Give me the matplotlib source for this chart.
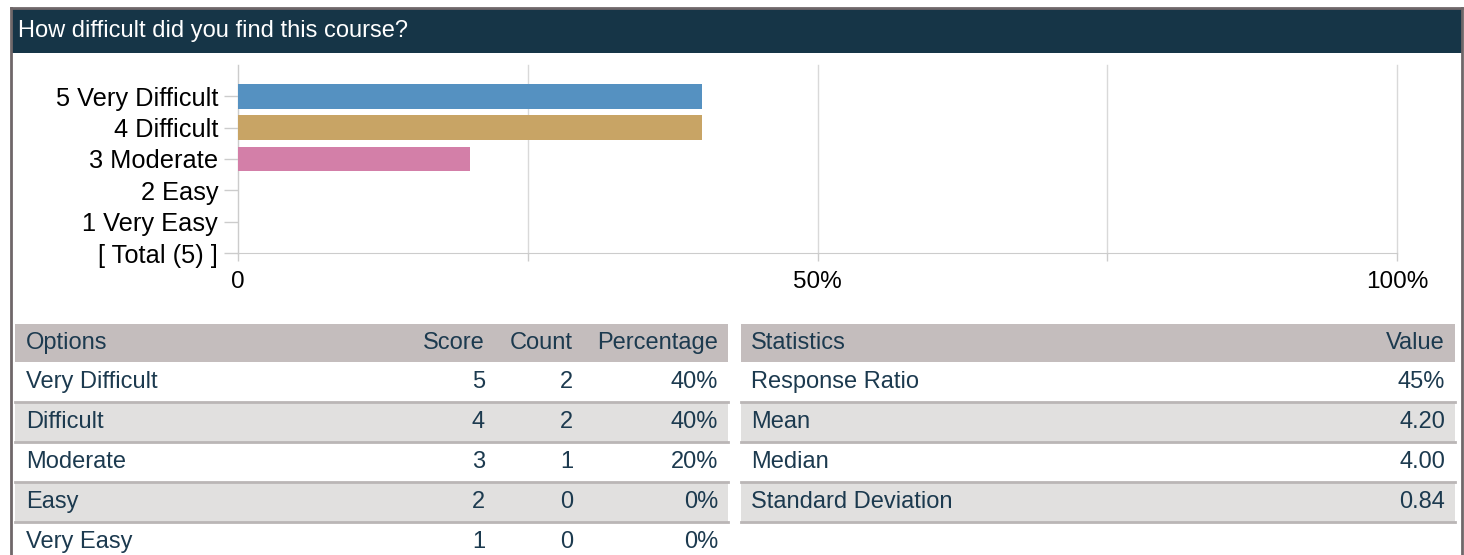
import matplotlib
matplotlib.use("Agg")
import matplotlib.pyplot as plt
from matplotlib.patches import Rectangle

# ---- data ----
title = "How difficult did you find this course?"
bar_labels = ["5 Very Difficult", "4 Difficult", "3 Moderate", "2 Easy", "1 Very Easy", "[ Total (5) ]"]
bar_values = [40, 40, 20, 0, 0, None]
bar_colors = ["#5591c1", "#c8a465", "#d37fa8", "#7fb07f", "#a08fc5"]
x_ticks = [0, 25, 50, 75, 100]
x_ticklabels = ["0", "", "50%", "", "100%"]

options = ["Very Difficult", "Difficult", "Moderate", "Easy", "Very Easy"]
scores = [5, 4, 3, 2, 1]
counts = [2, 2, 1, 0, 0]
percentages = ["40%", "40%", "20%", "0%", "0%"]
opt_headers = ["Options", "Score", "Count", "Percentage"]

stat_names = ["Response Ratio", "Mean", "Median", "Standard Deviation"]
stat_values = ["45%", "4.20", "4.00", "0.84"]
stat_headers = ["Statistics", "Value"]

W, H = 1464, 555
fig = plt.figure(figsize=(W / 100, H / 100), dpi=100)
fig.patch.set_facecolor("white")

SANS = ["Liberation Sans", "DejaVu Sans"]
TXT = "#1c3a4f"

# background / frame axes in pixel coords
bg = fig.add_axes([0, 0, 1, 1])
bg.set_xlim(0, W)
bg.set_ylim(H, 0)
bg.axis("off")

# header band
bg.add_patch(Rectangle((11, 8), 1451, 45, facecolor="#163547", edgecolor="none"))
bg.plot([11, 1462], [8, 8], color="#6f6769", lw=2)
bg.plot([11, 11], [8, H], color="#6f6769", lw=2)
bg.plot([1462, 1462], [8, H], color="#6f6769", lw=2)
bg.text(18, 31, title, color="white", fontsize=17, family=SANS, va="center", ha="left")

# ---- bar chart ----
x0, x1 = 238, 1397
y_top, y_bot = 65, 253
ax = fig.add_axes([x0 / W, 1 - y_bot / H, (x1 - x0) / W, (y_bot - y_top) / H])
n = len(bar_labels)
ypos = [n - 1 - i for i in range(n)]
for i, (lab, v) in enumerate(zip(bar_labels, bar_values)):
    if v:
        ax.barh(ypos[i], v, height=0.78, color=bar_colors[i], edgecolor="none", zorder=3)
ax.set_ylim(0, n)
ax.set_xlim(0, 100)
ax.set_yticks(ypos)
ax.set_yticklabels(bar_labels, family=SANS, fontsize=18.3, color="black")
ax.set_xticks(x_ticks)
ax.set_xticklabels(x_ticklabels, family=SANS, fontsize=17.5, color="black")
ax.tick_params(axis="y", length=10, color="#cccccc", width=1, pad=4.3)
ax.tick_params(axis="x", length=6, color="#cccccc", width=1, pad=7)
ax.grid(axis="x", color="#d9d9d9", lw=1, zorder=0)
for gl in ax.get_xgridlines():
    gl.set_clip_on(False)
for s in ["top", "right"]:
    ax.spines[s].set_visible(False)
ax.spines["left"].set_color("#cccccc")
ax.spines["bottom"].set_color("#cccccc")
ax.set_facecolor("white")

# ---- tables ----
row_h = 40
hdr_top = 324
HDR = "#c4bdbd"
ALT = "#e1e0df"
SEP = "#bab6b6"
FS = 17


def draw_table(xl, xr, header_cells, rows, col_x, col_ha):
    bg.add_patch(Rectangle((xl, hdr_top), xr - xl, 38, facecolor=HDR, edgecolor="none"))
    for j, h in enumerate(header_cells):
        bg.text(col_x[j], hdr_top + 19, h, color=TXT, fontsize=FS, family=SANS,
                ha=col_ha[j], va="center")
    top = hdr_top + 38
    for r, cells in enumerate(rows):
        yt = top + r * row_h
        if r % 2 == 1:
            bg.add_patch(Rectangle((xl, yt), xr - xl, row_h, facecolor=ALT, edgecolor="none"))
        if r > 0:
            bg.plot([xl, xr], [yt, yt], color=SEP, lw=2)
        for j, c in enumerate(cells):
            bg.text(col_x[j], yt + row_h / 2, str(c), color=TXT, fontsize=FS, family=SANS,
                    ha=col_ha[j], va="center")
    yb = top + len(rows) * row_h
    if yb < H:
        bg.plot([xl, xr], [yb, yb], color=SEP, lw=2)


opt_rows = [[o, s, c, p] for o, s, c, p in zip(options, scores, counts, percentages)]
draw_table(15, 728, opt_headers, opt_rows, [26, 485, 573, 718],
           ["left", "right", "right", "right"])
stat_rows = [[a, b] for a, b in zip(stat_names, stat_values)]
draw_table(741, 1455, stat_headers, stat_rows, [751, 1445], ["left", "right"])

fig.savefig("out.png", dpi=100, facecolor="white")
